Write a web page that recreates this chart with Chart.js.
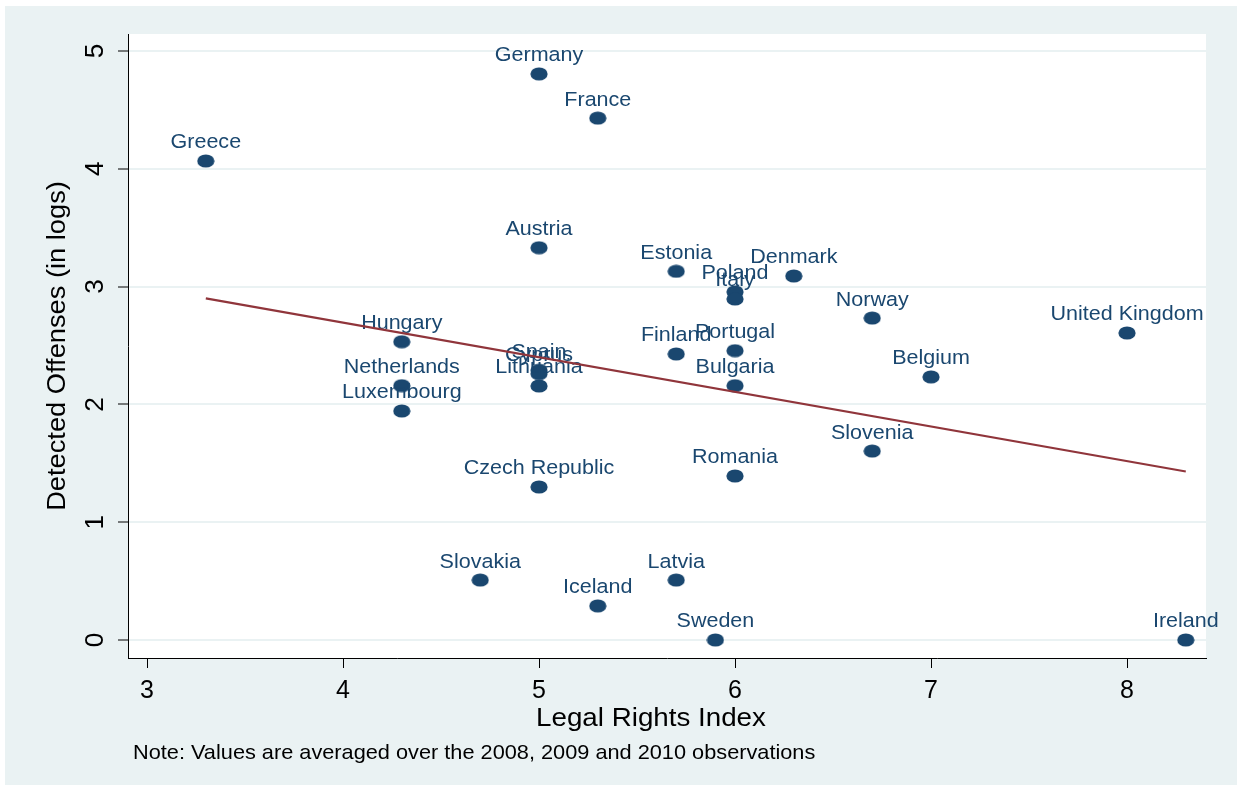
<!DOCTYPE html>
<html>
<head>
<meta charset="utf-8">
<script src="https://cdn.jsdelivr.net/npm/chart.js@4"></script>
<style>
  html, body { margin: 0; padding: 0; background: #ffffff; }
  #wrap { width: 1240px; height: 790px; }
</style>
</head>
<body>
<div id="wrap"><canvas id="chart" width="1240" height="790"></canvas></div>
<script>
// ── DATA ──
const countries = ['Germany', 'France', 'Greece', 'Austria', 'Estonia', 'Denmark', 'Poland', 'Italy',
  'Norway', 'United Kingdom', 'Hungary', 'Finland', 'Portugal', 'Spain', 'Cyprus', 'Lithuania',
  'Netherlands', 'Bulgaria', 'Belgium', 'Luxembourg', 'Slovenia', 'Romania', 'Czech Republic',
  'Slovakia', 'Latvia', 'Iceland', 'Sweden', 'Ireland'];
const legalRights = [5.0, 5.3, 3.3, 5.0, 5.7, 6.3, 6.0, 6.0,
  6.7, 8.0, 4.3, 5.7, 6.0, 5.0, 5.0, 5.0,
  4.3, 6.0, 7.0, 4.3, 6.7, 6.0, 5.0,
  4.7, 5.7, 5.3, 5.9, 8.3];
const offenses = [4.805, 4.43, 4.066, 3.33, 3.13, 3.09, 2.955, 2.895,
  2.733, 2.606, 2.532, 2.428, 2.456, 2.29, 2.26, 2.156,
  2.159, 2.159, 2.233, 1.944, 1.604, 1.392, 1.299,
  0.509, 0.509, 0.289, 0, 0];
const fitX = [3.3, 8.3];
const fitY = [2.90, 1.43];
const xTicks = [3, 4, 5, 6, 7, 8];
const yTicks = [0, 1, 2, 3, 4, 5];

const NAVY = '#1a476f';
const FIT = '#90353b';
const BG = '#eaf2f3';
const FONT = '"Liberation Sans", Arial, sans-serif';

// ellipse marker (Stata markers come out slightly squashed)
const marker = document.createElement('canvas');
marker.width = 18; marker.height = 14;
(function () {
  const m = marker.getContext('2d');
  m.fillStyle = NAVY;
  m.beginPath();
  m.ellipse(9, 7, 8.6, 6.6, 0, 0, Math.PI * 2);
  m.fill();
})();

// text drawn a bit wider than the font, like the exported graph
function wideText(g, text, x, y, sx, rot) {
  g.save();
  g.translate(x, y);
  if (rot) g.rotate(rot);
  g.scale(sx, 1);
  g.fillText(text, 0, 0);
  g.restore();
}

// ── PLUGIN: backgrounds, labels, rotated y ticks, titles ──
const stataLook = {
  id: 'stataLook',
  beforeDraw(chart) {
    const g = chart.ctx, a = chart.chartArea;
    g.save();
    g.fillStyle = '#ffffff';
    g.fillRect(0, 0, chart.width, chart.height);
    g.fillStyle = BG;
    g.fillRect(5, 6, 1232, 779);
    g.fillStyle = '#ffffff';
    g.fillRect(a.left, a.top, a.right - a.left, a.bottom - a.top);
    g.restore();
  },
  afterDatasetDraw(chart, args) {
    if (args.index !== 1) return;
    const g = chart.ctx;
    g.save();
    g.fillStyle = NAVY;
    g.font = '20.5px ' + FONT;
    g.textAlign = 'center';
    g.textBaseline = 'alphabetic';
    args.meta.data.forEach((pt, i) => {
      wideText(g, countries[i], pt.x, pt.y - 12.5, 1.05);
    });
    g.restore();
  },
  afterDraw(chart) {
    const g = chart.ctx, y = chart.scales.y, a = chart.chartArea;
    g.save();
    g.fillStyle = '#000000';
    g.textBaseline = 'alphabetic';
    // y tick labels, rotated
    g.font = '25px ' + FONT;
    g.textAlign = 'center';
    yTicks.forEach(v => {
      wideText(g, String(v), 103, y.getPixelForValue(v), 1.05, -Math.PI / 2);
    });
    // y title
    wideText(g, 'Detected Offenses (in logs)', 65, (a.top + a.bottom) / 2, 1.09, -Math.PI / 2);
    // x title
    wideText(g, 'Legal Rights Index', 651, 726, 1.11);
    // note
    g.font = '21px ' + FONT;
    g.textAlign = 'left';
    wideText(g, 'Note: Values are averaged over the 2008, 2009 and 2010 observations', 133, 759, 1.035);
    g.restore();
  }
};

new Chart(document.getElementById('chart'), {
  type: 'scatter',
  data: {
    datasets: [
      {
        type: 'line',
        label: 'Fitted values',
        data: fitX.map((x, i) => ({ x: x, y: fitY[i] })),
        borderColor: FIT,
        borderWidth: 2.2,
        pointRadius: 0,
        fill: false
      },
      {
        label: 'Detected Offenses',
        data: legalRights.map((x, i) => ({ x: x, y: offenses[i] })),
        pointStyle: marker,
        pointRadius: 7,
        pointHoverRadius: 7
      }
    ]
  },
  options: {
    responsive: false,
    animation: false,
    events: [],
    layout: { padding: { left: 0, top: 34, right: 34, bottom: 0 } },
    plugins: {
      legend: { display: false },
      tooltip: { enabled: false }
    },
    scales: {
      x: {
        type: 'linear',
        min: 2.903,
        max: 8.403,
        afterBuildTicks: s => { s.ticks = xTicks.map(v => ({ value: v })); },
        afterFit: s => { s.height = 132; },
        ticks: {
          autoSkip: false,
          maxRotation: 0,
          color: '#000000',
          padding: 8,
          font: { family: FONT, size: 25 }
        },
        grid: {
          drawOnChartArea: false,
          drawTicks: true,
          tickLength: 10,
          tickColor: '#000000',
          tickWidth: 1
        },
        border: { display: true, color: '#000000', width: 1 }
      },
      y: {
        type: 'linear',
        min: -0.153,
        max: 5.144,
        afterBuildTicks: s => { s.ticks = yTicks.map(v => ({ value: v })); },
        afterFit: s => { s.width = 128; },
        ticks: { display: false },
        grid: {
          color: BG,
          lineWidth: 2,
          drawTicks: true,
          tickLength: 10,
          tickColor: '#000000',
          tickWidth: 1
        },
        border: { display: true, color: '#000000', width: 1 }
      }
    }
  },
  plugins: [stataLook]
});
</script>
</body>
</html>
